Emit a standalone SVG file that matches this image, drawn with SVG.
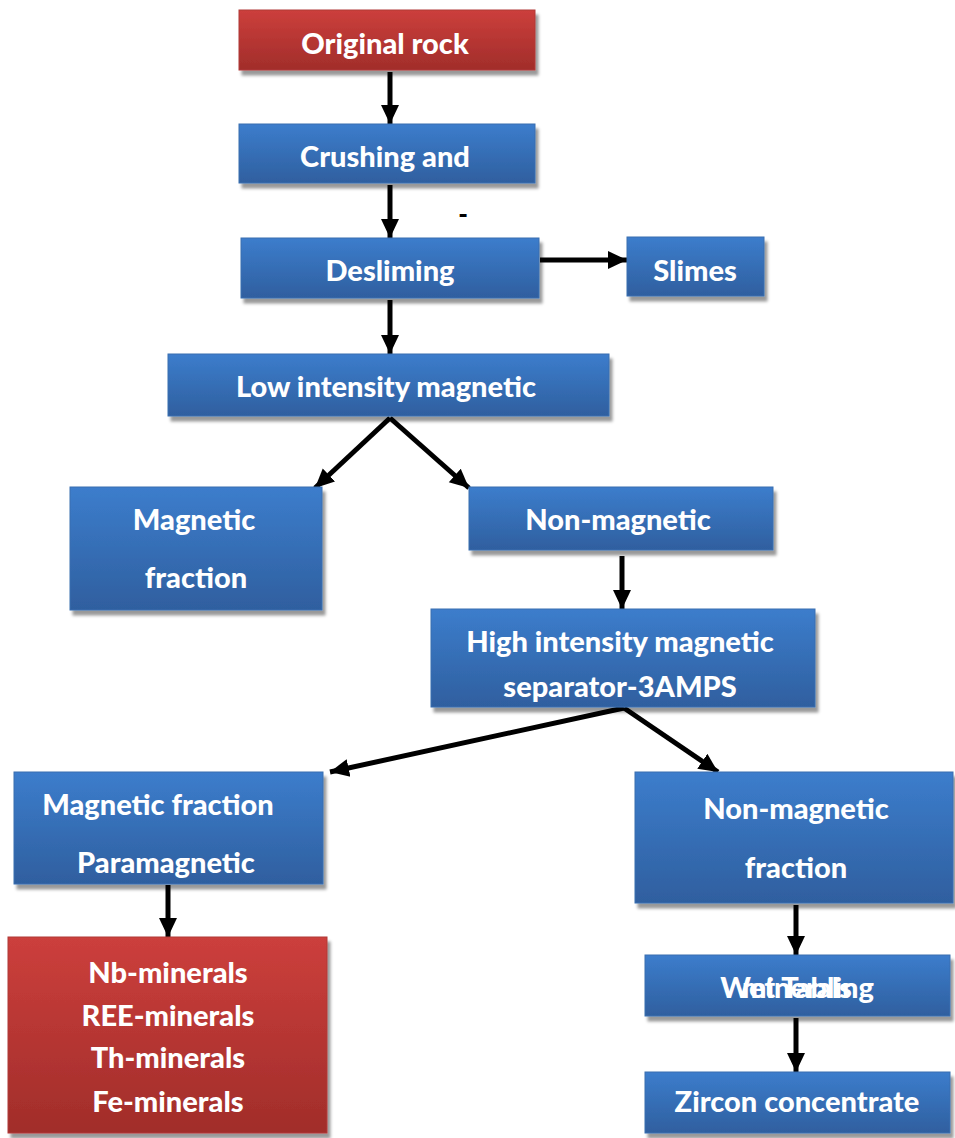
<svg xmlns="http://www.w3.org/2000/svg" width="955" height="1138" viewBox="0 0 955 1138">
<defs>
<linearGradient id="gb" x1="0" y1="0" x2="0" y2="1">
<stop offset="0" stop-color="#3c7dcc"/>
<stop offset="1" stop-color="#2f5f9f"/>
</linearGradient>
<linearGradient id="gr" x1="0" y1="0" x2="0" y2="1">
<stop offset="0" stop-color="#cc3f3c"/>
<stop offset="1" stop-color="#a12d2a"/>
</linearGradient>
<filter id="sh" x="-10%" y="-10%" width="130%" height="140%">
<feDropShadow dx="3" dy="5" stdDeviation="1.5" flood-color="#000" flood-opacity="0.4"/>
</filter>
<marker id="ah" markerUnits="userSpaceOnUse" markerWidth="22" markerHeight="22" viewBox="0 0 22 22" refX="19" refY="11" orient="auto">
<path d="M0,2 L19,11 L0,20 Z" fill="#000"/>
</marker>
</defs>
<style>
.b{fill:url(#gb);stroke:#3a6fb0;stroke-width:1;filter:url(#sh)}
.r{fill:url(#gr);stroke:#b03a36;stroke-width:1;filter:url(#sh)}
.t{font-family:Lato,"Open Sans","Liberation Sans",sans-serif;font-weight:900;font-size:29px;fill:#fff;text-anchor:middle}
.c{stroke:#000;stroke-width:5;fill:none;marker-end:url(#ah)}
</style>
<g id="connectors">
<path class="c" d="M390,72 V124"/>
<path class="c" d="M390,185 V238"/>
<path class="c" d="M540,260 H627"/>
<path class="c" d="M390,300 V354"/>
<path class="c" d="M390,418 L315,488"/>
<path class="c" d="M390,418 L469,488"/>
<path class="c" d="M622,556 V609"/>
<path class="c" d="M624,708 L330,772"/>
<path class="c" d="M624,708 L718,772"/>
<path class="c" d="M168,885 V937"/>
<path class="c" d="M796,905 V955"/>
<path class="c" d="M796,1018 V1072"/>
</g>
<text class="t" x="463" y="224" style="fill:#000;font-size:26px">-</text>
<g id="n1"><rect class="r" x="239" y="10" width="296" height="60"/><text class="t" x="385" y="54">Original rock</text></g>
<g id="n2"><rect class="b" x="239" y="124" width="296" height="59"/><text class="t" x="385" y="167">Crushing and</text></g>
<g id="n3"><rect class="b" x="241" y="238" width="298" height="60"/><text class="t" x="390" y="281">Desliming</text></g>
<g id="n4"><rect class="b" x="627" y="237" width="137" height="59"/><text class="t" x="695" y="281">Slimes</text></g>
<g id="n5"><rect class="b" x="168" y="354" width="441" height="62"/><text class="t" x="386" y="397">Low intensity magnetic</text></g>
<g id="n6"><rect class="b" x="70" y="487" width="252" height="123"/><text class="t" x="194" y="530">Magnetic</text><text class="t" x="196" y="588">fraction</text></g>
<g id="n7"><rect class="b" x="469" y="487" width="304" height="63"/><text class="t" x="618" y="530">Non-magnetic</text></g>
<g id="n8"><rect class="b" x="431" y="609" width="384" height="98"/><text class="t" x="620" y="652">High intensity magnetic</text><text class="t" x="620" y="697">separator-3AMPS</text></g>
<g id="n9"><rect class="b" x="14" y="772" width="309" height="112"/><text class="t" x="158" y="815">Magnetic fraction</text><text class="t" x="166" y="873">Paramagnetic</text></g>
<g id="n10"><rect class="b" x="635" y="772" width="318" height="131"/><text class="t" x="796" y="819">Non-magnetic</text><text class="t" x="796" y="878">fraction</text></g>
<g id="n11"><rect class="r" x="8" y="937" width="319" height="196"/><text class="t" x="168" y="983">Nb-minerals</text><text class="t" x="168" y="1026">REE-minerals</text><text class="t" x="168" y="1068">Th-minerals</text><text class="t" x="168" y="1112">Fe-minerals</text></g>
<g id="n12"><rect class="b" x="645" y="955" width="305" height="61"/><text class="t" x="797" y="998">Wet Tabling</text><text class="t" x="797" y="998">minerals</text></g>
<g id="n13"><rect class="b" x="645" y="1072" width="305" height="61"/><text class="t" x="797" y="1112">Zircon concentrate</text></g>
</svg>
